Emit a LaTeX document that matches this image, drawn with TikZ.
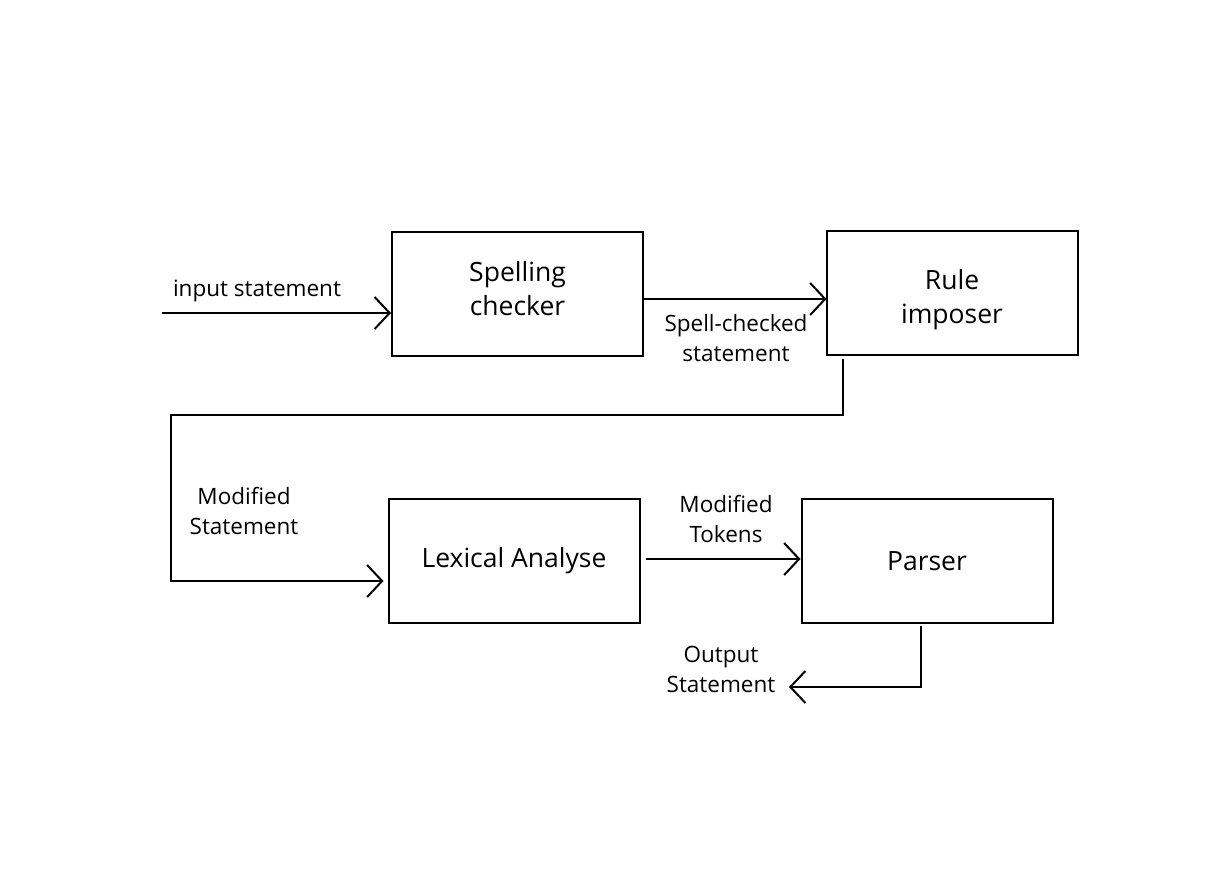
\documentclass[tikz,border=0pt]{standalone}
\usepackage{fontspec}
\setmainfont{Open Sans}
\usetikzlibrary{arrows.meta}
\begin{document}
\begin{tikzpicture}[x=1pt,y=-1pt,
  block/.style={draw,line width=2pt,minimum width=251pt,minimum height=124pt,inner sep=0pt,align=center,font=\fontsize{26.5}{34}\selectfont},
  lbl/.style={align=center,inner sep=0pt,font=\fontsize{22.5}{30}\selectfont},
  arr/.style={line width=2pt,-{Straight Barb[length=15pt,width=32pt,line width=2pt]}}]
\useasboundingbox (0,0) rectangle (1228,869);
\node[block] (sc) at (517.5,294) {Spelling\\checker\rule[-12pt]{0pt}{0pt}};
\node[block] (ri) at (952,293) {\rule{0pt}{33pt}Rule\\imposer};
\node[block] (la) at (514,561) {Lexical Analyse};
\node[block] (pa) at (927,561) {Parser};
\coordinate (in) at (162,313);
\coordinate (turn) at (171,415);
\coordinate (out) at (789,687);
\draw[arr] (in) -- (in -| sc.west);
\draw[arr] ([yshift=-5pt]sc.east) -- ([yshift=-6pt,xshift=1pt]ri.west);
\draw[arr] ([xshift=17pt,yshift=-3pt]ri.south west) |- (turn) |- ([yshift=-20pt,xshift=-4pt]la.west);
\draw[arr] ([yshift=2pt,xshift=5pt]la.east) -- ([yshift=2pt]pa.west);
\draw[arr] ([xshift=-6pt,yshift=-2pt]pa.south) |- (out);
\node[lbl] (l1) at (257,291) {input statement};
\node[lbl] (l2) at (736,338) {Spell-checked\\statement};
\node[lbl] (l3) at (244,511) {Modified\\Statement};
\node[lbl] (l4) at (726,519) {Modified\\Tokens};
\node[lbl] (l5) at (721,669) {Output\\Statement};
\end{tikzpicture}
\end{document}
